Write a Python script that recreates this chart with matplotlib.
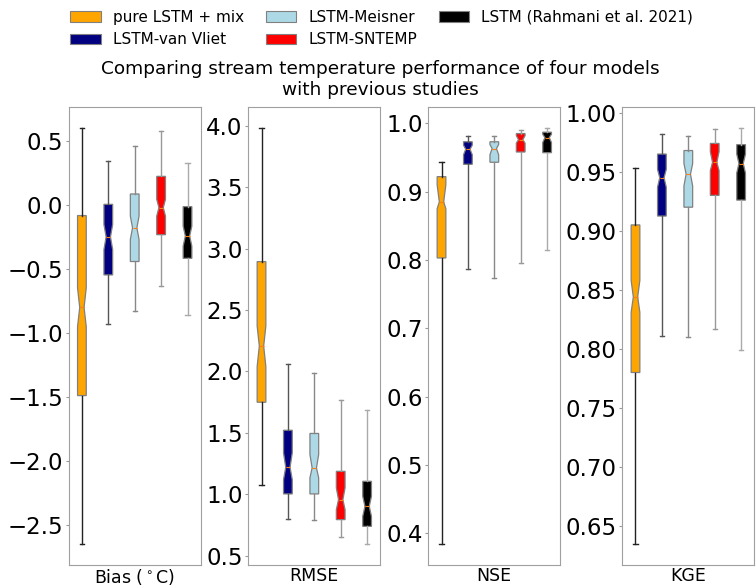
import numpy as np
import matplotlib
matplotlib.use("Agg")
import matplotlib.pyplot as plt
from matplotlib.patches import Patch

models = ["pure LSTM + mix", "LSTM-van Vliet", "LSTM-Meisner", "LSTM-SNTEMP", "LSTM (Rahmani et al. 2021)"]
box_colors = ["orange", "navy", "lightblue", "red", "black"]
whisker_colors = ["#222222", "#555555", "#888888", "#999999", "#aaaaaa"]

metric_labels = ["Bias ($^\\circ$C)", "RMSE", "NSE", "KGE"]

# box stats, one value per model
bias_whislo = [-2.65, -0.93, -0.83, -0.63, -0.86]
bias_q1 = [-1.49, -0.545, -0.44, -0.23, -0.415]
bias_med = [-0.80, -0.247, -0.176, -0.018, -0.24]
bias_q3 = [-0.08, 0.008, 0.089, 0.227, -0.01]
bias_whishi = [0.605, 0.347, 0.465, 0.583, 0.335]
bias_cilo = [-0.95, -0.346, -0.268, -0.084, -0.32]
bias_cihi = [-0.646, -0.15, -0.084, 0.047, -0.163]

rmse_whislo = [1.08, 0.803, 0.795, 0.654, 0.599]
rmse_q1 = [1.75, 1.004, 1.004, 0.795, 0.74]
rmse_med = [2.207, 1.221, 1.216, 0.958, 0.903]
rmse_q3 = [2.894, 1.522, 1.496, 1.188, 1.107]
rmse_whishi = [3.98, 2.06, 1.99, 1.77, 1.683]
rmse_cilo = [2.04, 1.12, 1.135, 0.876, 0.822]
rmse_cihi = [2.37, 1.338, 1.324, 1.053, 0.985]

nse_whislo = [0.385, 0.787, 0.773, 0.795, 0.815]
nse_q1 = [0.803, 0.940, 0.943, 0.958, 0.957]
nse_med = [0.885, 0.962, 0.963, 0.976, 0.979]
nse_q3 = [0.922, 0.973, 0.973, 0.985, 0.987]
nse_whishi = [0.943, 0.981, 0.981, 0.990, 0.993]
nse_cilo = [0.875, 0.954, 0.954, 0.971, 0.972]
nse_cihi = [0.91, 0.968, 0.969, 0.982, 0.984]

kge_whislo = [0.635, 0.811, 0.810, 0.817, 0.799]
kge_q1 = [0.780, 0.9125, 0.920, 0.930, 0.926]
kge_med = [0.844, 0.945, 0.948, 0.958, 0.957]
kge_q3 = [0.905, 0.965, 0.968, 0.974, 0.973]
kge_whishi = [0.953, 0.982, 0.980, 0.986, 0.987]
kge_cilo = [0.831, 0.937, 0.938, 0.951, 0.949]
kge_cihi = [0.858, 0.952, 0.957, 0.967, 0.965]

yticks = [
    [-2.5, -2.0, -1.5, -1.0, -0.5, 0.0, 0.5],
    [0.5, 1.0, 1.5, 2.0, 2.5, 3.0, 3.5, 4.0],
    [0.4, 0.5, 0.6, 0.7, 0.8, 0.9, 1.0],
    [0.65, 0.70, 0.75, 0.80, 0.85, 0.90, 0.95, 1.00],
]
ytick_fmt = ["%.1f", "%.1f", "%.1f", "%.2f"]

all_stats = [
    (bias_whislo, bias_q1, bias_med, bias_q3, bias_whishi, bias_cilo, bias_cihi),
    (rmse_whislo, rmse_q1, rmse_med, rmse_q3, rmse_whishi, rmse_cilo, rmse_cihi),
    (nse_whislo, nse_q1, nse_med, nse_q3, nse_whishi, nse_cilo, nse_cihi),
    (kge_whislo, kge_q1, kge_med, kge_q3, kge_whishi, kge_cilo, kge_cihi),
]

fig = plt.figure(figsize=(7.56, 5.87), dpi=100)
W, H = 756.0, 587.0
lefts = [68.7, 248.3, 428.3, 622.3]
top_px, bot_px, width_px = 107.3, 564.5, 132.0

for k in range(4):
    ax = fig.add_axes([lefts[k] / W, 1 - bot_px / H, width_px / W, (bot_px - top_px) / H])
    wl, q1, med, q3, wh, clo, chi = all_stats[k]
    for i in range(5):
        st = dict(whislo=wl[i], q1=q1[i], med=med[i], q3=q3[i], whishi=wh[i],
                  cilo=clo[i], cihi=chi[i], fliers=[])
        ax.bxp([st], positions=[i + 1], widths=0.33, shownotches=True, patch_artist=True,
               boxprops=dict(facecolor=box_colors[i], edgecolor="#808080", linewidth=0.9),
               whiskerprops=dict(color=whisker_colors[i], linewidth=1.0),
               capprops=dict(color=whisker_colors[i], linewidth=1.0),
               medianprops=dict(color="#ff7f0e", linewidth=0.8))
    ax.set_xlim(0.5, 5.5)
    ax.set_xticks([3])
    ax.set_xticklabels([metric_labels[k]], fontsize=12.5)
    ax.tick_params(axis="x", length=0, pad=2)
    ax.set_yticks(yticks[k])
    # real minus sign like the default formatter
    ax.set_yticklabels([(ytick_fmt[k] % v).replace("-", "\u2212") for v in yticks[k]], fontsize=16.5)
    ax.tick_params(axis="y", color="#999999", length=2, pad=2)
    for s in ax.spines.values():
        s.set_color("#a0a0a0")
    # autoscale with 5% margin like the default
    lo, hi = min(wl), max(wh)
    m = 0.05 * (hi - lo)
    ax.set_ylim(lo - m, hi + m)

handles = [Patch(facecolor=c, edgecolor="#808080", linewidth=0.8) for c in box_colors]
fig.legend(handles, models, loc="upper center", bbox_to_anchor=(0.505, 1.007), ncol=3,
           frameon=False, fontsize=11, labelspacing=0.5, columnspacing=1.4)

fig.text(0.503, 1 - 60 / H, "Comparing stream temperature performance of four models\nwith previous studies",
         ha="center", va="top", fontsize=13.3, linespacing=1.2)

fig.savefig("out.png", dpi=100)
